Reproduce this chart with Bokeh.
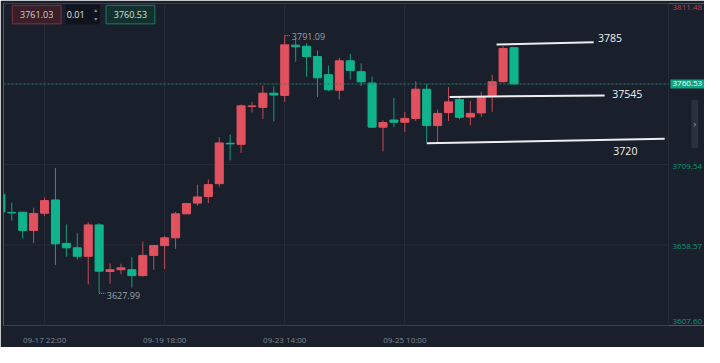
from bokeh.plotting import figure
from bokeh.models import Range1d, FixedTicker, ColumnDataSource, Label
from bokeh.core.properties import value
from bokeh.embed import file_html
from bokeh.resources import INLINE

# ---------------- data (4h candles, index = candle number) ----------------
opens = [3690.6, 3679.2, 3679.3, 3667.8, 3678.7, 3687.1, 3659.6, 3656.8, 3651.4, 3671.3,
         3641.8, 3642.9, 3642.9, 3639.2, 3652.0, 3658.2, 3663.1, 3678.3, 3685.1, 3689.2,
         3697.4, 3723.0, 3722.3, 3746.3, 3745.7, 3754.7, 3753.3, 3785.1, 3784.4, 3777.9,
         3766.4, 3756.6, 3775.2, 3768.3, 3761.1, 3733.2, 3737.7, 3736.3, 3738.7, 3757.2,
         3734.2, 3742.4, 3750.7, 3739.6, 3742.2, 3752.7, 3762.0, 3783.5]
highs = [3692.0, 3685.5, 3679.5, 3682.2, 3688.6, 3707.4, 3671.6, 3666.0, 3673.0, 3672.4,
         3646.9, 3646.7, 3650.8, 3660.7, 3658.5, 3664.3, 3679.5, 3685.0, 3696.8, 3700.0,
         3726.7, 3728.5, 3747.6, 3749.2, 3759.5, 3758.9, 3791.09, 3789.4, 3786.3, 3781.8,
         3772.2, 3777.1, 3779.7, 3773.6, 3765.2, 3737.5, 3751.7, 3742.8, 3762.1, 3760.5,
         3744.3, 3758.6, 3752.3, 3749.8, 3755.6, 3766.4, 3784.4, 3783.9]
lows = [3678.5, 3674.0, 3662.5, 3659.7, 3676.9, 3645.9, 3651.1, 3649.2, 3633.6, 3627.99,
        3634.0, 3640.1, 3631.6, 3638.6, 3642.9, 3643.3, 3656.1, 3678.1, 3683.4, 3685.1,
        3695.5, 3712.1, 3716.9, 3742.5, 3738.4, 3736.9, 3749.2, 3774.6, 3765.2, 3752.3,
        3755.8, 3750.7, 3763.4, 3759.2, 3732.6, 3717.9, 3733.2, 3730.1, 3737.1, 3723.8,
        3723.8, 3737.1, 3738.1, 3734.4, 3739.6, 3742.9, 3761.5, 3760.3]
closes = [3679.5, 3678.9, 3667.8, 3678.5, 3686.7, 3659.3, 3656.8, 3651.4, 3671.3, 3642.0,
          3642.9, 3644.1, 3639.2, 3652.0, 3658.2, 3663.1, 3678.3, 3684.8, 3689.0, 3696.8,
          3723.2, 3722.6, 3746.7, 3746.6, 3754.7, 3753.5, 3785.3, 3784.1, 3777.9, 3764.4,
          3756.8, 3775.2, 3769.1, 3761.9, 3733.2, 3736.1, 3736.3, 3738.7, 3757.2, 3734.2,
          3741.9, 3749.2, 3739.4, 3741.9, 3751.9, 3761.9, 3783.0, 3760.53]

time_tick_idx = [4, 15, 26, 37]
time_tick_labels = ["09-17 22:00", "09-19 18:00", "09-23 14:00", "09-25 10:00"]
price_ticks = [3607.60, 3658.57, 3709.54, 3760.51, 3811.48]
price_tick_labels = ["3607.60", "3658.57", "3709.54", "3760.51", "3811.48"]
last_price = 3760.53
ui_texts = ["3761.03", "0.01", "3760.53"]

high_mark_idx, high_mark_val = 26, 3791.09
low_mark_idx, low_mark_val = 9, 3627.99

level_x0 = [45.4, 41.1, 39.0]
level_x1 = [54.3, 55.3, 60.8]
level_y0 = [3785.5, 3752.3, 3723.0]
level_y1 = [3786.9, 3753.3, 3725.8]
level_text = ["3785", "37545", "3720"]
level_tx = [54.7, 56.0, 56.1]
level_ty = [3789.5, 3754.1, 3718.3]

# ---------------- style / geometry ----------------
BG = "#191f2b"
GRID = "#242b37"
RED = "#e2525e"
GREEN = "#10b48c"
FONT = "Open Sans"

W, H = 704, 347
LEFT, TOP, BOTTOM = 3, 3, 13
SCALE_W = 36                      # width of the price-scale strip
PLOT_W = W - LEFT - SCALE_W       # candle area width in px
X0, X1 = 0.24, 61.15              # candle area in index units
PX = PLOT_W / (X1 - X0)           # px per candle index
XR = X1 + SCALE_W / PX            # frame right incl. price scale strip
Y0, Y1 = price_ticks[0], price_ticks[-1]


def px2x(rx):
    # reference-picture x pixel -> index units
    return X0 + (rx - 3) * (X1 - X0) / 681.0


def px2y(ry):
    # reference-picture y pixel -> price units
    return Y1 - (ry - 3) * (Y1 - Y0) / 348.0


p = figure(width=W, height=H, x_range=Range1d(X0, XR), y_range=Range1d(Y0, Y1),
           output_backend="svg", toolbar_location=None,
           min_border_left=LEFT, min_border_right=0, min_border_top=TOP,
           min_border_bottom=BOTTOM,
           background_fill_color=BG, border_fill_color=BG, outline_line_color=None)

p.yaxis.visible = False
p.ygrid.visible = False
p.xgrid.ticker = FixedTicker(ticks=time_tick_idx)
p.xgrid.grid_line_color = GRID

xa = p.xaxis[0]
xa.ticker = FixedTicker(ticks=time_tick_idx)
xa.major_label_overrides = {i: t for i, t in zip(time_tick_idx, time_tick_labels)}
xa.axis_line_color = None
xa.major_tick_line_color = None
xa.minor_tick_line_color = None
xa.major_label_standoff = 2
xa.major_label_text_font = FONT
xa.major_label_text_font_size = "8px"
xa.major_label_text_color = "#7f8794"

# horizontal grid (stops at the price scale) + scale separator
p.segment(x0=[X0] * len(price_ticks), x1=[X1] * len(price_ticks),
          y0=price_ticks, y1=price_ticks, line_color=GRID, line_width=1)
p.segment(x0=[X1], x1=[X1], y0=[Y0], y1=[Y1], line_color=GRID, line_width=1)

# ---------------- candles ----------------
xs = list(range(len(opens)))
colors = [RED if c >= o else GREEN for o, c in zip(opens, closes)]
src = ColumnDataSource(dict(
    x=xs, o=opens, h=highs, l=lows, c=closes,
    top=[max(o, c) for o, c in zip(opens, closes)],
    bottom=[min(o, c) for o, c in zip(opens, closes)],
    color=colors))
p.segment(x0="x", y0="l", x1="x", y1="h", line_color="color", line_width=1,
          line_alpha=0.85, source=src)
p.vbar(x="x", width=0.74, top="top", bottom="bottom", fill_color="color",
       line_color="color", line_width=1, source=src)

# last price dotted line
p.segment(x0=[X0], x1=[X1], y0=[last_price], y1=[last_price], line_color="#1f7d69",
          line_dash="2 2", line_width=1)

# high / low markers
p.segment(x0=[high_mark_idx, low_mark_idx], y0=[high_mark_val, low_mark_val],
          x1=[high_mark_idx + 0.55, low_mark_idx + 0.6], y1=[high_mark_val, low_mark_val],
          line_color="#9aa1ab", line_dash="1 1", line_width=1)
p.text(x=[high_mark_idx + 0.65, low_mark_idx + 0.7],
       y=[high_mark_val - 0.8, low_mark_val - 1.5],
       text=[f"{high_mark_val:.2f}", f"{low_mark_val:.2f}"],
       text_font=value(FONT), text_font_size="9px", text_color="#9aa1ab",
       text_baseline="middle", text_align="left")

# drawn support / resistance levels
p.segment(x0=level_x0, y0=level_y0, x1=level_x1, y1=level_y1,
          line_color="#eeeeee", line_width=2)
p.text(x=level_tx, y=level_ty, text=level_text, text_font=value(FONT),
       text_font_size="10.5px", text_color="#f2f2f2", text_baseline="middle",
       text_align="left")

# ---------------- top-left order widgets ----------------
ui_l = [12, 67, 108]
ui_r = [62, 101, 158]
ui_fill = ["#3a1f28", "#0f141c", "#12302d"]
ui_line = ["#7a3441", "#0f141c", "#1b7c67"]
ui_tcol = ["#d6cdd0", "#e8e8e8", "#cfe4de"]
p.quad(left=[px2x(v) for v in ui_l], right=[px2x(v) for v in ui_r],
       top=[px2y(5)] * 3, bottom=[px2y(25)] * 3,
       fill_color=ui_fill, line_color=ui_line, line_width=1)
for t, l, r, c in zip(ui_texts, ui_l, ui_r, ui_tcol):
    cx = (l + r) / 2.0 if t != "0.01" else 77
    p.add_layout(Label(x=px2x(cx), y=px2y(15), text=t, text_align="center",
                       text_baseline="middle", text_font=FONT, text_font_size="9px",
                       text_color=c))
p.add_layout(Label(x=px2x(97.5), y=px2y(10), text="▴", text_align="center",
                   text_baseline="middle", text_font="DejaVu Sans",
                   text_font_size="6px", text_color="#8a919c"))
p.add_layout(Label(x=px2x(97.5), y=px2y(19.5), text="▾", text_align="center",
                   text_baseline="middle", text_font="DejaVu Sans",
                   text_font_size="6px", text_color="#8a919c"))

# ---------------- right price scale (labels) ----------------
scale_pos = {3811.48: (Y1 - 0.8, "top", "#c0434f"),
             3709.54: (3709.54 - 1.2, "middle", "#0f9a78"),
             3658.57: (3658.57 - 1.2, "middle", "#0f9a78"),
             3607.60: (Y0 + 0.8, "bottom", "#0f9a78")}
for v, lab in zip(price_ticks, price_tick_labels):
    if v not in scale_pos:
        continue
    yy, base, col = scale_pos[v]
    p.add_layout(Label(x=X1, y=yy, x_offset=4, text=lab, text_align="left",
                       text_baseline=base, text_font=FONT, text_font_size="8px",
                       text_color=col))

p.add_layout(Label(x=X1, y=last_price, x_offset=2, text=f"{last_price:.2f}",
                   text_align="left", text_baseline="middle", text_font=FONT,
                   text_font_size="8px", text_color="#ffffff",
                   background_fill_color="#12a383", padding=2))

# side collapse tab
p.add_layout(Label(x=X1, y=px2y(133), x_offset=23, text="\n›\n", text_align="left",
                   text_baseline="middle", text_font=FONT, text_font_size="9px",
                   text_color="#9aa1ab", background_fill_color="#2a313d", padding=2))

open("out.html", "w").write(file_html(p, INLINE))
